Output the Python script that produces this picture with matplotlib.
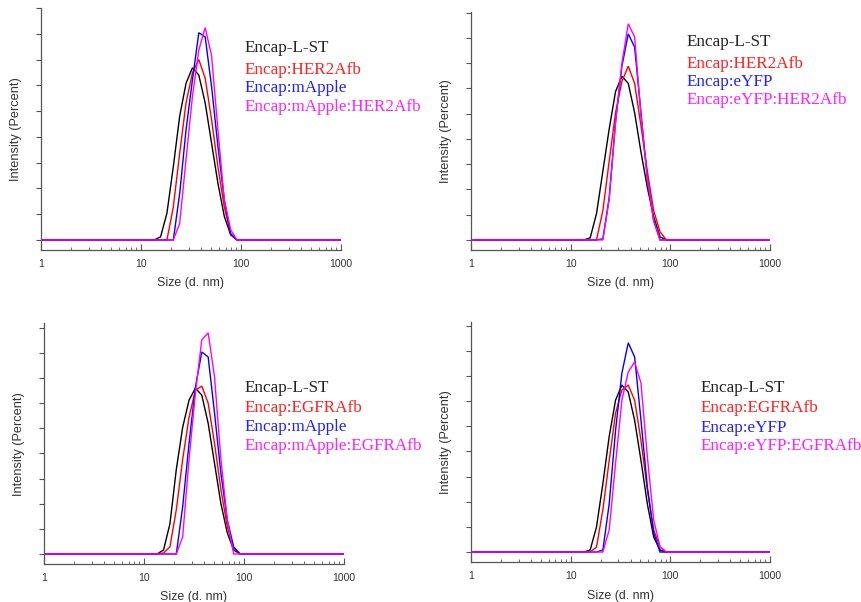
import matplotlib
matplotlib.use("Agg")
import matplotlib.pyplot as plt
from matplotlib.ticker import MultipleLocator, FixedLocator, NullFormatter, LogLocator

# DLS size bins (d. nm)
SIZES = [1.0, 11.70, 13.54, 15.69, 18.17, 21.04, 24.36, 28.21, 32.67, 37.84,
         43.82, 50.75, 58.77, 68.06, 78.82, 91.28, 105.7, 1000.0]

# Panel A (top-left): HER2Afb / mApple
A_labels = ["Encap-L-ST", "Encap:HER2Afb", "Encap:mApple", "Encap:mApple:HER2Afb"]
A_black   = [0, 0, 0, 0.3, 2.6, 7.1, 12.0, 15.2, 16.7, 16.0, 13.3, 9.4, 5.5, 2.3, 0.5, 0, 0, 0]
A_red     = [0, 0, 0, 0, 0, 3.2, 8.4, 13.3, 16.2, 17.5, 15.7, 11.7, 7.1, 3.2, 0.6, 0, 0, 0]
A_blue    = [0, 0, 0, 0, 0, 0, 4.5, 10.7, 15.5, 20.1, 19.7, 14.9, 9.1, 3.9, 0.6, 0, 0, 0]
A_magenta = [0, 0, 0, 0, 0, 0, 1.6, 7.8, 13.9, 18.4, 20.6, 17.9, 10.7, 3.9, 1.0, 0, 0, 0]

# Panel B (top-right): HER2Afb / eYFP
B_labels = ["Encap-L-ST", "Encap:HER2Afb", "Encap:eYFP", "Encap:eYFP:HER2Afb"]
B_black   = [0, 0, 0, 0.2, 2.6, 6.8, 11.0, 14.7, 16.2, 15.5, 12.6, 8.7, 5.2, 2.3, 0.3, 0, 0, 0]
B_red     = [0, 0, 0, 0, 0, 2.9, 7.8, 12.6, 15.7, 17.2, 15.5, 11.3, 6.8, 2.9, 0.8, 0, 0, 0]
B_blue    = [0, 0, 0, 0, 0, 0.1, 4.2, 11.7, 17.2, 20.4, 19.1, 12.6, 6.1, 1.9, 0, 0, 0, 0]
B_magenta = [0, 0, 0, 0, 0, 0, 4.0, 11.7, 17.5, 21.4, 20.1, 12.3, 6.1, 1.9, 0, 0, 0, 0]

# Panel C (bottom-left): EGFRAfb / mApple
C_labels = ["Encap-L-ST", "Encap:EGFRAfb", "Encap:mApple", "Encap:mApple:EGFRAfb"]
C_black   = [0, 0, 0, 0.4, 3.0, 8.4, 12.6, 15.3, 16.5, 15.8, 13.0, 9.0, 5.0, 2.1, 0.4, 0, 0, 0]
C_red     = [0, 0, 0, 0.1, 0.7, 4.4, 9.4, 13.6, 16.3, 16.7, 15.0, 11.0, 6.4, 2.7, 0.6, 0, 0, 0]
C_blue    = [0, 0, 0, 0, 0, 0, 4.7, 11.0, 16.6, 20.1, 19.6, 14.0, 8.0, 3.4, 0.7, 0, 0, 0]
C_magenta = [0, 0, 0, 0, 0, 0, 1.7, 9.4, 16.0, 21.3, 22.0, 17.6, 9.4, 3.4, 0, 0, 0, 0]

# Panel D (bottom-right): EGFRAfb / eYFP
D_labels = ["Encap-L-ST", "Encap:EGFRAfb", "Encap:eYFP", "Encap:eYFP:EGFRAfb"]
D_black   = [0, 0, 0, 0.2, 2.5, 6.8, 11.5, 15.1, 16.6, 15.9, 13.1, 9.1, 4.8, 1.5, 0.2, 0, 0, 0]
D_red     = [0, 0, 0, 0, 0.5, 4.2, 9.1, 13.8, 16.1, 16.6, 15.1, 11.1, 6.2, 2.2, 0.5, 0, 0, 0]
D_blue    = [0, 0, 0, 0, 0, 0.2, 4.8, 12.1, 17.8, 20.8, 19.4, 13.1, 6.5, 1.9, 0, 0, 0, 0]
D_magenta = [0, 0, 0, 0, 0, 0, 2.2, 8.8, 15.1, 17.9, 18.9, 16.8, 9.5, 3.2, 0.5, 0, 0, 0]

X_TICKS = [1, 10, 100, 1000]
X_TICK_LABELS = ["1", "10", "100", "1000"]
COLORS = ["#000000", "#ff0000", "#0000ff", "#ff00ff"]
TEXT_COLORS = ["#222222", "#ff2222", "#2222ff", "#ff22ff"]

W, H = 862, 602
fig = plt.figure(figsize=(W / 100, H / 100), dpi=100)

def px_axes(x0, x1, ytop, ybot):
    return [x0 / W, 1 - ybot / H, (x1 - x0) / W, (ybot - ytop) / H]

panels = [
    # (x0, x1, ytop, ybot, ymin, ymax, legend_x, legend_ys, labels, series)
    (41, 341, 8, 250, -0.97, 22.5, 245, [48, 70, 88.5, 107], A_labels,
     [A_black, A_red, A_blue, A_magenta]),
    (471, 770, 11.7, 250, -1.0, 22.6, 687, [42.5, 63.5, 82, 100.5], B_labels,
     [B_black, B_red, B_blue, B_magenta]),
    (44, 344, 323.3, 564, -1.0, 22.95, 245, [387.5, 408.5, 427, 446], C_labels,
     [C_black, C_red, C_blue, C_magenta]),
    (471, 770, 321.7, 562.3, -1.02, 22.9, 701, [387.5, 408.5, 427.5, 446], D_labels,
     [D_black, D_red, D_blue, D_magenta]),
]

for (x0, x1, yt, yb, ymin, ymax, lx, lys, labels, series) in panels:
    ax = fig.add_axes(px_axes(x0, x1, yt, yb))
    for vals, c in zip(series, COLORS):
        ax.plot(SIZES, vals, color=c, lw=1.0, solid_joinstyle="miter")
    ax.set_xscale("log")
    ax.set_xlim(1, 1000)
    ax.set_ylim(ymin, ymax)
    ax.xaxis.set_major_locator(FixedLocator(X_TICKS))
    ax.set_xticklabels(X_TICK_LABELS)
    ax.xaxis.set_minor_locator(LogLocator(base=10, subs=range(2, 10)))
    ax.xaxis.set_minor_formatter(NullFormatter())
    ax.yaxis.set_major_locator(MultipleLocator(5))
    ax.yaxis.set_minor_locator(MultipleLocator(2.5))
    ax.yaxis.set_major_formatter(NullFormatter())
    ax.tick_params(axis="x", which="major", direction="in", length=4, width=0.8,
                   color="#555555", labelsize=7.5, labelcolor="#333333", pad=6.5)
    ax.tick_params(axis="x", which="minor", direction="in", length=2, width=0.6,
                   color="#555555")
    ax.tick_params(axis="y", which="both", direction="out", length=3.5, width=0.8,
                   color="#555555")
    for s in ("top", "right"):
        ax.spines[s].set_visible(False)
    for s in ("left", "bottom"):
        ax.spines[s].set_color("#555555")
        ax.spines[s].set_linewidth(0.9)
    for lab in ax.get_xticklabels():
        lab.set_family("Liberation Sans")
    ax.set_xlabel("Size (d. nm)", fontsize=8.9, color="#333333",
                  family="Liberation Sans", labelpad=6)
    ax.set_ylabel("Intensity (Percent)", fontsize=9.2, color="#333333",
                  family="Liberation Sans", labelpad=7)
    for lab, ly, tc in zip(labels, lys, TEXT_COLORS):
        fig.text(lx / W, 1 - ly / H, lab, color=tc, fontsize=12.3,
                 family="Liberation Serif", ha="left", va="center")

fig.savefig("out.png", dpi=100, facecolor="white")
